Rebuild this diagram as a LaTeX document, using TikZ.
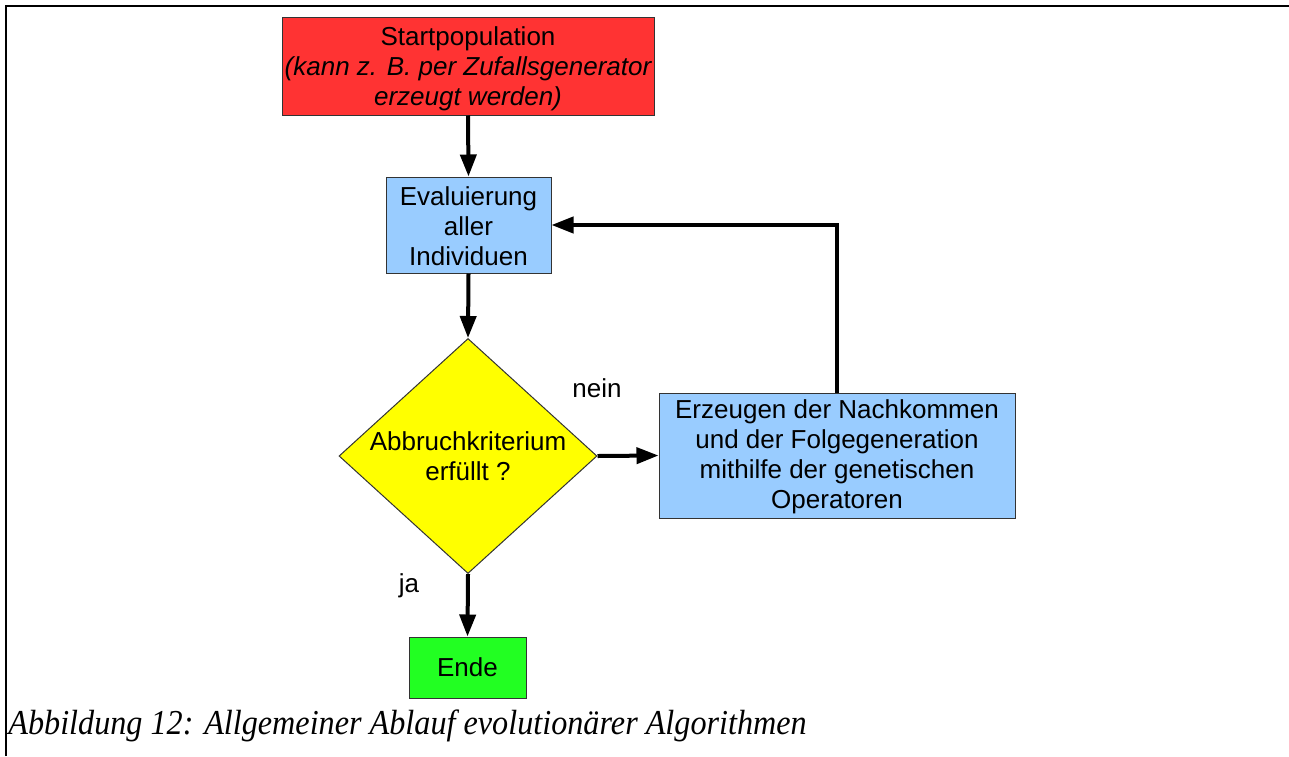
\documentclass[tikz,border=0pt]{standalone}
\usepackage{fontspec}
\setmainfont{Liberation Sans}
\newfontfamily\capfont{Liberation Serif}
\usetikzlibrary{shapes.geometric,arrows.meta}
\definecolor{startred}{HTML}{FF3333}
\definecolor{evalblue}{HTML}{99CCFF}
\definecolor{testyellow}{HTML}{FFFF00}
\definecolor{endgreen}{HTML}{22FF22}
\definecolor{edgegrey}{HTML}{333333}
% lower a block of lines without changing its size
\newcommand{\lowered}[2]{\raisebox{-#1}[\height][\depth]{\begin{tabular}{@{}c@{}}#2\end{tabular}}}
\tikzset{
  boxtext/.style={font=\fontsize{13pt}{15pt}\selectfont, align=center},
  flowbox/.style={boxtext, draw=edgegrey, line width=0.5pt, inner sep=0pt},
  flowarrow/.style={line width=2pt, -{Triangle[length=11pt,width=8pt]}},
  edgelabel/.style={font=\fontsize{13pt}{15pt}\selectfont, inner sep=0pt}
}
\begin{document}
\begin{tikzpicture}[x=0.5pt, y=-0.5pt]
  \useasboundingbox (0,0) rectangle (1289,756);
  % frame around the figure
  \coordinate (fbl) at (6,756);
  \coordinate (ftl) at (6,6);
  \coordinate (ftr) at (1289,6);
  \draw[line width=1pt] (fbl) -- (ftl) -- (ftr);

  % flow chart nodes
  \node[flowbox, fill=startred, minimum width=186pt, minimum height=49pt] (start) at (468,66)
    {\lowered{1.8pt}{Startpopulation\\\itshape(kann z. B. per Zufallsgenerator\\\itshape erzeugt werden)}};
  \node[flowbox, fill=evalblue, minimum width=82.5pt, minimum height=48pt] (eval) at (468.5,225)
    {\lowered{2pt}{Evaluierung\\aller\\Individuen}};
  \node[flowbox, shape=diamond, fill=testyellow, minimum width=129pt, minimum height=117.5pt] (test) at (468,456)
    {\makebox[0pt][c]{\lowered{1.7pt}{Abbruchkriterium\\erfüllt ?}}};
  \node[flowbox, fill=evalblue, minimum width=178pt, minimum height=62.5pt] (breed) at (837,455.5)
    {\lowered{1.2pt}{Erzeugen der Nachkommen\\und der Folgegeneration\\mithilfe der genetischen\\Operatoren}};
  \node[flowbox, fill=endgreen, minimum width=58.5pt, minimum height=30.5pt] (stop) at (467.5,667.5)
    {Ende};

  % connectors
  \draw[flowarrow] (start.south) -- (eval.north);
  \draw[flowarrow] (eval.south) -- (test.north);
  \draw[flowarrow] (test.east) -- (breed.west);
  \draw[flowarrow] (breed.north) |- (eval.east);
  \draw[flowarrow] (test.south) -- (stop.north);

  % branch labels
  \node[edgelabel] (nolabel) at (597,388) {nein};
  \node[edgelabel] (yeslabel) at (409,586) {ja};

  % caption
  \node[anchor=base west, inner sep=0pt, font=\capfont\itshape\fontsize{17.5pt}{20pt}\selectfont] (caption) at (8,734)
    {\scalebox{0.92}[1]{Abbildung 12: Allgemeiner Ablauf evolutionärer Algorithmen}};
\end{tikzpicture}
\end{document}
